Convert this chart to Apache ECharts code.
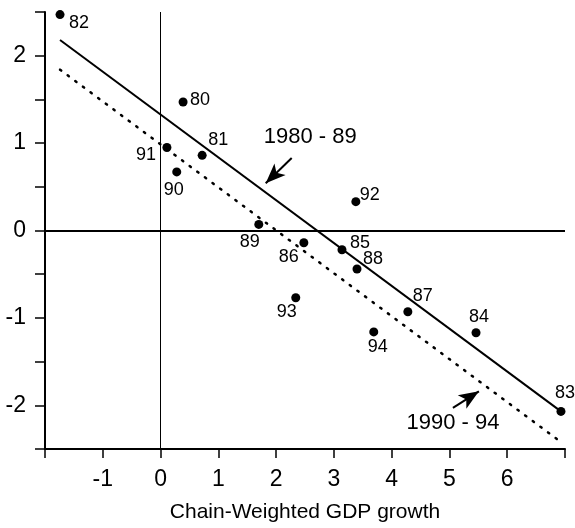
<!DOCTYPE html>
<html><head><meta charset="utf-8">
<script src="https://cdn.jsdelivr.net/npm/echarts@6/dist/echarts.min.js"></script>
<style>html,body{margin:0;padding:0;background:#fff}#c{width:575px;height:528px}</style>
</head><body><div id="c"></div>
<script>
// ---- data ----
const years = ['80','81','82','83','84','85','86','87','88','89','90','91','92','93','94'];
const gdpGrowth = [0.39, 0.72, -1.74, 6.93, 5.46, 3.14, 2.48, 4.28, 3.40, 1.70, 0.28, 0.11, 3.38, 2.34, 3.69];
const unempChange = [1.47, 0.86, 2.47, -2.07, -1.17, -0.22, -0.14, -0.93, -0.44, 0.07, 0.67, 0.95, 0.33, -0.77, -1.16];
const fit8089X = [-1.74, 6.93];
const fit8089Y = [2.18, -2.07];
const fit9094X = [-1.74, 6.95];
const fit9094Y = [1.84, -2.43];
const xTickLabels = ['-1','0','1','2','3','4','5','6'];
const yTickLabels = ['-2','-1','0','1','2'];
const annoText = ['1980 - 89', '1990 - 94'];
const annoTextX = [2.59, 5.06];
const annoTextY = [1.07, -2.2];
const arrowFromX = [2.27, 5.06], arrowFromY = [0.83, -2.03];
const arrowToX = [1.82, 5.51], arrowToY = [0.54, -1.84];

// ---- styling (label offsets per year) ----
const labelOffsets = {
  '80':[17,-2],'81':[16,-15],'82':[19,8],'83':[4,-18],'84':[3,-16],'85':[18,-7],
  '86':[-15,14],'87':[15,-16],'88':[16,-10],'89':[-9,18],'90':[-3,18],'91':[-21,8],
  '92':[14,-7],'93':[-9,14],'94':[4,15]
};
const FONT = 'Liberation Sans, Arial, sans-serif';

const chart = echarts.init(document.getElementById('c'), null, {renderer:'canvas'});
const pts = years.map((y,i)=>({
  value:[gdpGrowth[i], unempChange[i]],
  label:{offset: labelOffsets[y]}
}));
chart.setOption({
  animation:false,
  backgroundColor:'#fff',
  grid:{left:45,right:10,top:12,bottom:77,containLabel:false},
  xAxis:{
    type:'value', min:-2, max:7, interval:1,
    axisLine:{show:true,onZero:false,lineStyle:{color:'#000',width:2}},
    axisTick:{show:true,length:9,lineStyle:{color:'#000',width:1.5}},
    axisLabel:{margin:19,color:'#000',fontSize:23,fontFamily:FONT,
      formatter:v=>{const s=String(v);return xTickLabels.includes(s)?s:'';}},
    splitLine:{show:false},
    name:'Chain-Weighted GDP growth', nameLocation:'middle', nameGap:53,
    nameTextStyle:{color:'#000',fontSize:21,fontFamily:FONT}
  },
  yAxis:{
    type:'value', min:-2.5, max:2.5, interval:0.5,
    axisLine:{show:true,onZero:false,lineStyle:{color:'#000',width:2}},
    axisTick:{show:true,length:10,lineStyle:{color:'#000',width:1.5}},
    axisLabel:{margin:19,color:'#000',fontSize:23,fontFamily:FONT,
      formatter:v=>{const s=String(v);return yTickLabels.includes(s)?s:'';}},
    splitLine:{show:false}
  },
  series:[
    {type:'line', data:[], silent:true,
      markLine:{silent:true,symbol:['none','none'],label:{show:false},
        data:[
          {xAxis:0, lineStyle:{color:'#000',width:1,type:'solid'}},
          {yAxis:0, lineStyle:{color:'#000',width:2,type:'solid'}}
        ]}},
    {type:'line', data:fit8089X.map((x,i)=>[x,fit8089Y[i]]), symbol:'none',
      lineStyle:{color:'#000',width:2}},
    {type:'line', data:fit9094X.map((x,i)=>[x,fit9094Y[i]]), symbol:'none',
      lineStyle:{color:'#000',width:2.5,type:[1.5,8],cap:'round'}},
    {type:'scatter', data:pts, symbol:'circle', symbolSize:9, z:5,
      itemStyle:{color:'#000',opacity:1},
      label:{show:true,position:'inside',color:'#000',fontSize:18,fontFamily:FONT,
        textBorderWidth:0,formatter:p=>years[p.dataIndex]}},
    {type:'scatter', data:annoText.map((t,i)=>[annoTextX[i],annoTextY[i]]), symbolSize:0,
      itemStyle:{color:'#000',opacity:1},
      label:{show:true,position:'inside',color:'#000',fontSize:22,fontFamily:FONT,
        textBorderWidth:0,formatter:p=>annoText[p.dataIndex]},
      markLine:{silent:true,symbol:['none','arrow'],symbolSize:[12,20],label:{show:false},
        lineStyle:{color:'#000',width:2,type:'solid',opacity:1},
        data:arrowFromX.map((x,i)=>[{coord:[x,arrowFromY[i]]},{coord:[arrowToX[i],arrowToY[i]]}])}}
  ]
});
</script></body></html>
